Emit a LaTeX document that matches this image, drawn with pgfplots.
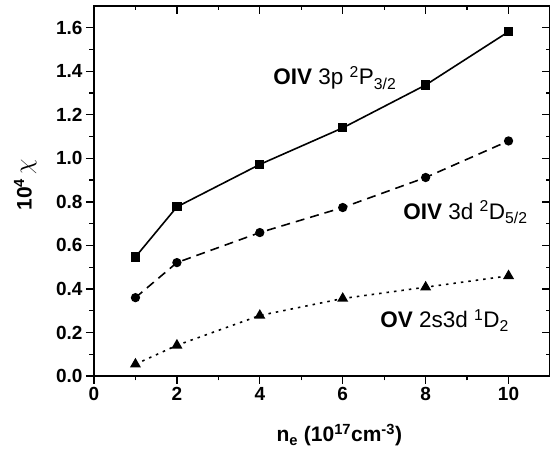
\documentclass[border=0pt]{standalone}
\usepackage{pgfplots}
\pgfplotsset{compat=1.18}
\usepackage{fontspec}
\setmainfont{Liberation Sans}
\begin{document}
\begin{tikzpicture}
\pgfplotsset{
 common/.style={width=456pt,height=370pt,scale only axis,
  xmin=0,xmax=11,ymin=0,ymax=1.7,
  xtick={0,2,4,6,8,10}, ytick={0,0.2,0.4,0.6,0.8,1.0,1.2,1.4,1.6},
  minor x tick num=1, minor y tick num=1,
  major tick length=8pt, minor tick length=4.5pt,
  every tick/.style={line width=1.3pt,black},
  axis line style={line width=1.6pt}}
}
\begin{axis}[common,name=ax, tick align=outside, xtick pos=left, ytick pos=left,
 ticklabel style={font=\fontsize{19}{21}\selectfont\bfseries},
 /pgf/number format/assume math mode=true,
 yticklabel style={/pgf/number format/.cd,fixed,fixed zerofill,precision=1},
 xlabel={\textbf{n\textsubscript{e} (10\textsuperscript{17}cm\textsuperscript{-3})}},
 ylabel={\textbf{10\textsuperscript{4}}\,{\fontsize{24}{26}\selectfont$\chi$}},
 label style={font=\fontsize{21}{23}\selectfont},
 xlabel style={at={(axis description cs:0.538,-0.16)},anchor=center},
 ylabel style={at={(axis description cs:-0.151,0.516)},anchor=center},
 every axis plot/.append style={black,line width=1.6pt},
]
\addplot[solid,mark=square*,mark size=3.8pt,mark options={solid}] coordinates {
 (1,0.547) (2,0.777) (4,0.972) (6,1.140) (8,1.337) (10,1.582)};
\addplot[dash pattern=on 9pt off 6pt,mark=*,mark size=3.8pt,mark options={solid}] coordinates {
 (1,0.360) (2,0.521) (4,0.659) (6,0.774) (8,0.912) (10,1.080)};
\addplot[dash pattern=on 2.5pt off 5pt,mark=triangle*,mark size=4.8pt,mark options={solid}] coordinates {
 (1,0.054) (2,0.141) (4,0.278) (6,0.356) (8,0.408) (10,0.460)};
\node[font=\fontsize{22.5}{24}\selectfont] at (axis cs:5.81,1.37) {\textbf{OIV} 3p \textsuperscript{2}P\textsubscript{3/2}};
\node[font=\fontsize{22.5}{24}\selectfont] at (axis cs:8.96,0.753) {\textbf{OIV} 3d \textsuperscript{2}D\textsubscript{5/2}};
\node[font=\fontsize{22.5}{24}\selectfont] at (axis cs:8.46,0.256) {\textbf{OV} 2s3d \textsuperscript{1}D\textsubscript{2}};
\end{axis}
\begin{axis}[common, at={(ax.south west)}, anchor=south west, tick align=inside,
 xtick pos=right, ytick pos=right, xticklabels={}, yticklabels={}, axis line style={draw=none}]
\end{axis}
\pgfresetboundingbox
\path ([xshift=-94pt,yshift=-75pt]ax.south west) rectangle ([yshift=6pt]ax.north east);
\end{tikzpicture}
\end{document}
